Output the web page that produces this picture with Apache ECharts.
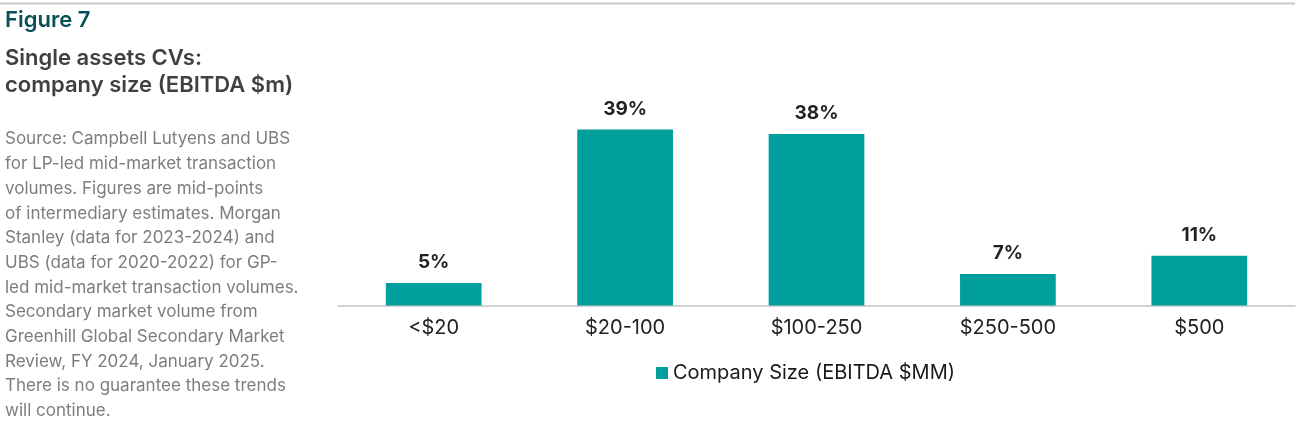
<!DOCTYPE html>
<html>
<head>
<meta charset="utf-8">
<title>Figure 7</title>
<script src="https://cdn.jsdelivr.net/npm/echarts@6/dist/echarts.min.js"></script>
<style>
    html, body { margin: 0; padding: 0; background: #fff; }
    #mainChartBlock { width: 1298px; height: 428px; }
</style>
</head>
<body>
<div id="mainChartBlock"></div>
<script>
var categories = ['<$20', '$20-100', '$100-250', '$250-500', '$500'];
var shares = [5, 39, 38, 7, 11];
var seriesName = 'Company Size (EBITDA $MM)';
var figureLabel = 'Figure 7';
var titleLines = ['Single assets CVs:', 'company size (EBITDA $m)'];
var sourceLines = [
    'Source: Campbell Lutyens and UBS',
    'for LP-led mid-market transaction',
    'volumes. Figures are mid-points',
    'of intermediary estimates. Morgan',
    'Stanley (data for 2023-2024) and',
    'UBS (data for 2020-2022) for GP-',
    'led mid-market transaction volumes.',
    'Secondary market volume from',
    'Greenhill Global Secondary Market',
    'Review, FY 2024, January 2025.',
    'There is no guarantee these trends',
    'will continue.'
];

var fontFamily = 'Inter, "Noto Sans", sans-serif';

var myChart = echarts.init(document.getElementById('mainChartBlock'));

var option = {
    animation: false,
    textStyle: { fontFamily: fontFamily },
    graphic: [
        {
            type: 'line',
            shape: { x1: 0, y1: 3.5, x2: 1295, y2: 3.5 },
            style: { stroke: '#c8c8c8', lineWidth: 2 }
        },
        {
            type: 'text',
            left: 5, top: 9,
            style: {
                text: figureLabel,
                font: '600 22px ' + fontFamily,
                fill: '#0b4f57'
            }
        },
        {
            type: 'text',
            left: 5, top: 45,
            style: {
                text: titleLines.join('\n'),
                font: '600 22px ' + fontFamily,
                lineHeight: 27,
                fill: '#404040'
            }
        },
        {
            type: 'text',
            left: 5, top: 127,
            style: {
                text: sourceLines.join('\n'),
                font: '17px ' + fontFamily,
                lineHeight: 24.7,
                fill: '#7d7d7d'
            }
        }
    ],
    grid: {
        left: 338,
        right: 3,
        top: 125,
        bottom: 122.5,
        containLabel: false
    },
    legend: {
        data: [seriesName],
        left: 651,
        top: 358,
        icon: 'rect',
        itemWidth: 12,
        itemHeight: 12,
        itemGap: 8,
        textStyle: { fontSize: 20, color: '#1a1a1a', fontFamily: fontFamily }
    },
    xAxis: {
        type: 'category',
        data: categories,
        axisTick: { show: false },
        axisLine: { lineStyle: { color: '#c4c4c4', width: 1.5 } },
        axisLabel: { fontSize: 20, color: '#222', margin: 12, fontFamily: fontFamily }
    },
    yAxis: {
        type: 'value',
        min: 0,
        max: 40,
        show: false,
        splitLine: { show: false }
    },
    series: [
        {
            name: seriesName,
            type: 'bar',
            data: shares,
            barWidth: '50%',
            itemStyle: { color: '#009e9c' },
            label: {
                show: true,
                position: 'top',
                distance: 11,
                formatter: '{c}%',
                fontSize: 19,
                fontWeight: 'bold',
                color: '#222',
                fontFamily: fontFamily
            }
        }
    ]
};

myChart.setOption(option);
</script>
</body>
</html>
